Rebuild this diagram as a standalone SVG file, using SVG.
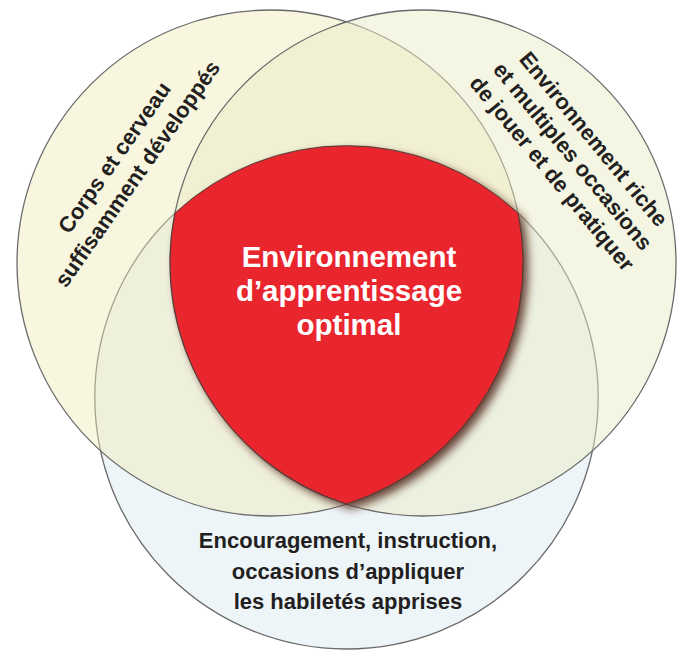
<svg xmlns="http://www.w3.org/2000/svg" width="680" height="650" viewBox="0 0 680 650">
<style>
  .ring { stroke: #6a6a6a; stroke-width: 1.3; }
  .lbl { font-family: "Liberation Sans", Arial, Helvetica, sans-serif; font-weight: bold; font-size: 22px; fill: #231f20; text-anchor: middle; }
  .core { font-family: "Liberation Sans", Arial, Helvetica, sans-serif; font-weight: bold; font-size: 29.5px; fill: #ffffff; text-anchor: middle; }
</style>
<defs>
  <filter id="shadow" x="-20%" y="-20%" width="140%" height="140%">
    <feGaussianBlur in="SourceAlpha" stdDeviation="4"/>
    <feOffset dx="5" dy="5" result="b"/>
    <feFlood flood-color="#4a1c12" flood-opacity="0.8"/>
    <feComposite in2="b" operator="in" result="s"/>
    <feMerge><feMergeNode in="s"/><feMergeNode in="SourceGraphic"/></feMerge>
  </filter>
</defs>
<rect x="0" y="0" width="680" height="650" fill="#ffffff"/>
<g id="circle-bottom">
  <circle class="ring" cx="346.5" cy="397.3" r="251.7" fill="#edf5f8"/>
</g>
<g id="circle-left">
  <circle class="ring" cx="270" cy="263" r="253" fill="rgb(241,235,186)" fill-opacity="0.45"/>
</g>
<g id="circle-right">
  <circle class="ring" cx="423" cy="263" r="253" fill="rgb(232,234,196)" fill-opacity="0.48"/>
</g>
<g id="center">
  <path d="M174.9,213.3 A251.7,251.7 0 0 1 518.1,213.3 A253,253 0 0 1 346.5,504 A253,253 0 0 1 174.9,213.3 Z" fill="#e9282e" stroke="#4a3a34" stroke-width="0.9" filter="url(#shadow)"/>
  <text class="core" x="349" y="267">Environnement</text>
  <text class="core" x="349" y="301">d’apprentissage</text>
  <text class="core" x="349" y="335">optimal</text>
</g>
<g id="label-left" transform="translate(132,170) rotate(-55)">
  <text class="lbl" x="0" y="-14">Corps et cerveau</text>
  <text class="lbl" x="0" y="14">suffisamment développés</text>
</g>
<g id="label-right" transform="translate(567,161) rotate(50.5)">
  <text class="lbl" x="0" y="-27">Environnement riche</text>
  <text class="lbl" x="0" y="0">et multiples occasions</text>
  <text class="lbl" x="0" y="27">de jouer et de pratiquer</text>
</g>
<g id="label-bottom">
  <text class="lbl" x="348" y="548">Encouragement, instruction,</text>
  <text class="lbl" x="348" y="578.5">occasions d’appliquer</text>
  <text class="lbl" x="348" y="609">les habiletés apprises</text>
</g>
<g id="connectors"/>
</svg>
